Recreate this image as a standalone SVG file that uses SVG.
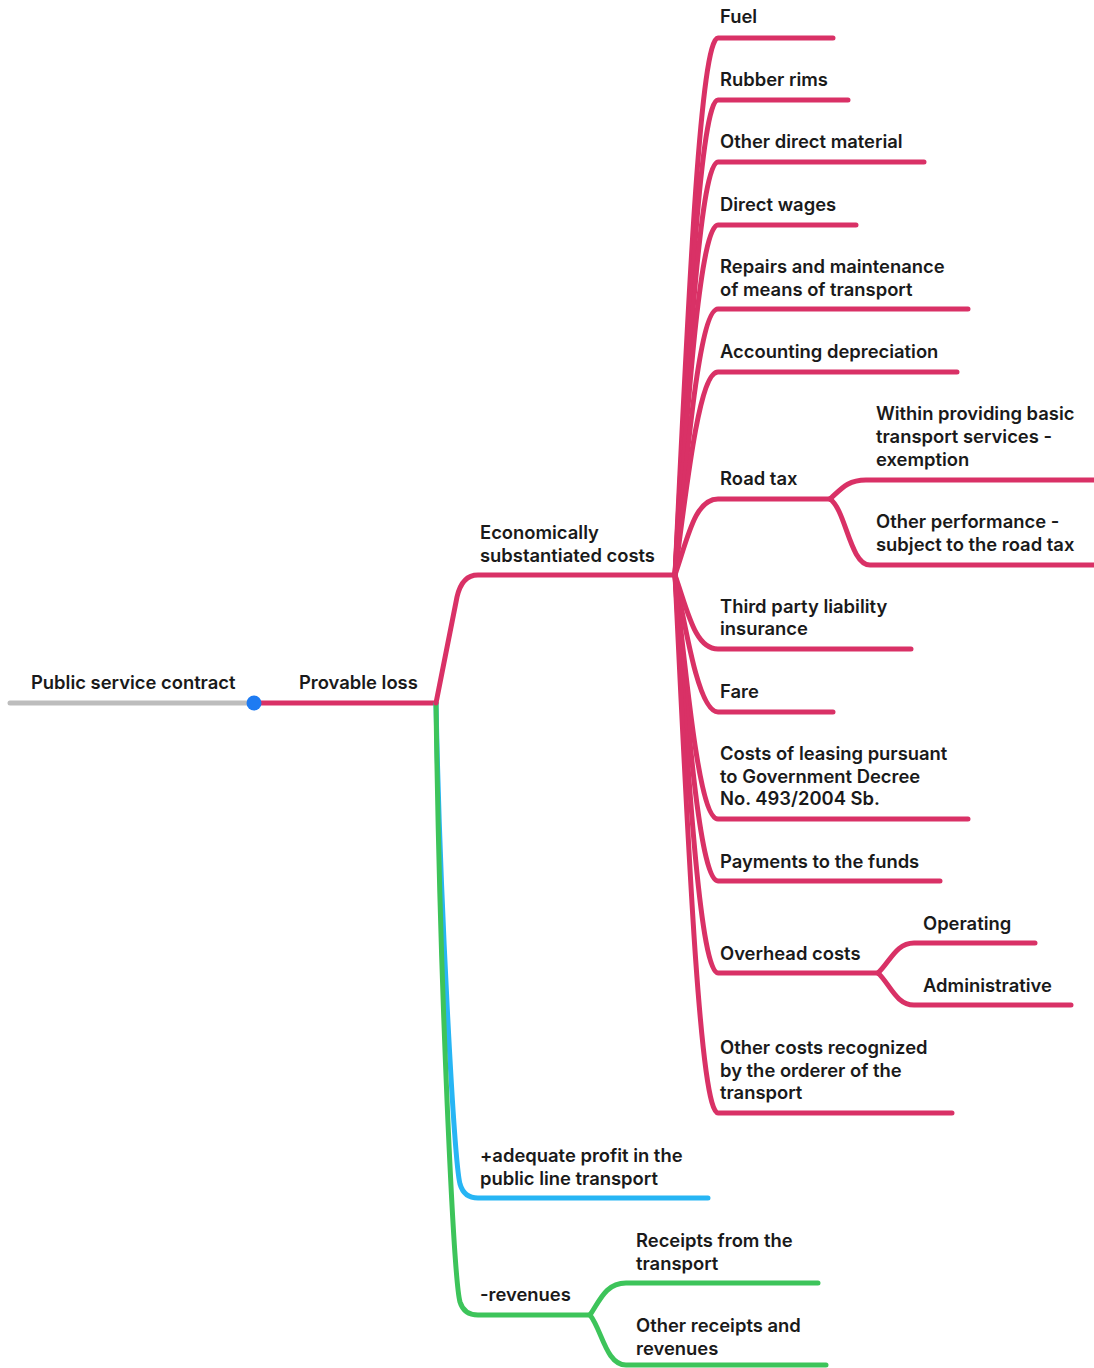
<svg xmlns="http://www.w3.org/2000/svg" width="1094" height="1368" viewBox="0 0 1094 1368">
<style>
text{font-family:Inter,"Noto Sans","Liberation Sans",sans-serif;font-size:18.4px;font-weight:600;fill:#1a1a1a}
.l{fill:none;stroke-width:5;stroke-linecap:round;stroke-linejoin:round}
.p{stroke:#D93166}.g{stroke:#3DC45A}.b{stroke:#27B5F4}.gr{stroke:#BDBDBD}
</style>
<rect width="1094" height="1368" fill="#fff"/>
<g id="connectors">
<path class="l gr" d="M10,703 L254,703"/>
<path class="l p" d="M254,703 L436,703"/>
<path class="l b" d="M436,703 C440,900 454,1160 460,1184 Q464,1198 478,1198 L708,1198"/>
<path class="l g" d="M436,703 C440,1000 454,1280 460,1302 Q464,1315 478,1315 L590,1315"/>
<path class="l g" d="M590,1315 C600,1300 606,1283 626,1283 L818,1283"/>
<path class="l g" d="M590,1315 C602,1330 606,1365 626,1365 L826,1365"/>
<path class="l p" d="M436,703 L457,597 Q462,575 478,575 L675,575"/>
<path class="l p" d="M675,575 C688,306 700,38 718,38 L833,38"/>
<path class="l p" d="M675,575 C688,337 700,100 718,100 L848,100"/>
<path class="l p" d="M675,575 C688,368 700,162 718,162 L924,162"/>
<path class="l p" d="M675,575 C688,400 700,225 718,225 L856,225"/>
<path class="l p" d="M675,575 C688,442 700,309 718,309 L968,309"/>
<path class="l p" d="M675,575 C688,473 700,372 718,372 L957,372"/>
<path class="l p" d="M675,575 C688,537 695,499 718,499 L830,499"/>
<path class="l p" d="M830,499 C842,488 848,480 866,480 L1094,480"/>
<path class="l p" d="M830,499 C846,510 850,565 870,565 L1094,565"/>
<path class="l p" d="M675,575 C688,612 695,649 718,649 L911,649"/>
<path class="l p" d="M675,575 C688,643 700,712 718,712 L833,712"/>
<path class="l p" d="M675,575 C688,697 700,819 718,819 L968,819"/>
<path class="l p" d="M675,575 C688,728 700,881 718,881 L940,881"/>
<path class="l p" d="M675,575 C688,774 700,973 718,973 L878,973"/>
<path class="l p" d="M878,973 C890,962 896,943 914,943 L1035,943"/>
<path class="l p" d="M878,973 C890,984 896,1005 914,1005 L1071,1005"/>
<path class="l p" d="M675,575 C688,844 700,1113 718,1113 L952,1113"/>
<circle cx="254" cy="703" r="7.5" fill="#1E7BF2"/>
</g>
<g id="n-root"><text x="31" y="689">Public service contract</text></g>
<g id="n-loss"><text x="299" y="689">Provable loss</text></g>
<g id="n-econ"><text x="480" y="539">Economically</text><text x="480" y="562">substantiated costs</text></g>
<g id="n-fuel"><text x="720" y="23">Fuel</text></g>
<g id="n-rubber"><text x="720" y="86">Rubber rims</text></g>
<g id="n-otherdm"><text x="720" y="148">Other direct material</text></g>
<g id="n-wages"><text x="720" y="211">Direct wages</text></g>
<g id="n-repairs"><text x="720" y="273">Repairs and maintenance</text><text x="720" y="296">of means of transport</text></g>
<g id="n-depr"><text x="720" y="358">Accounting depreciation</text></g>
<g id="n-within"><text x="876" y="420">Within providing basic</text><text x="876" y="443">transport services -</text><text x="876" y="466">exemption</text></g>
<g id="n-roadtax"><text x="720" y="485">Road tax</text></g>
<g id="n-otherperf"><text x="876" y="528">Other performance -</text><text x="876" y="551">subject to the road tax</text></g>
<g id="n-third"><text x="720" y="613">Third party liability</text><text x="720" y="635">insurance</text></g>
<g id="n-fare"><text x="720" y="698">Fare</text></g>
<g id="n-leasing"><text x="720" y="760">Costs of leasing pursuant</text><text x="720" y="783">to Government Decree</text><text x="720" y="805">No. 493/2004 Sb.</text></g>
<g id="n-funds"><text x="720" y="868">Payments to the funds</text></g>
<g id="n-operating"><text x="923" y="930">Operating</text></g>
<g id="n-overhead"><text x="720" y="960">Overhead costs</text></g>
<g id="n-admin"><text x="923" y="992">Administrative</text></g>
<g id="n-othercosts"><text x="720" y="1054">Other costs recognized</text><text x="720" y="1077">by the orderer of the</text><text x="720" y="1099">transport</text></g>
<g id="n-profit"><text x="480" y="1162">+adequate profit in the</text><text x="480" y="1185">public line transport</text></g>
<g id="n-revenues"><text x="480" y="1301">-revenues</text></g>
<g id="n-receipts"><text x="636" y="1247">Receipts from the</text><text x="636" y="1270">transport</text></g>
<g id="n-otherrec"><text x="636" y="1332">Other receipts and</text><text x="636" y="1355">revenues</text></g>
</svg>
